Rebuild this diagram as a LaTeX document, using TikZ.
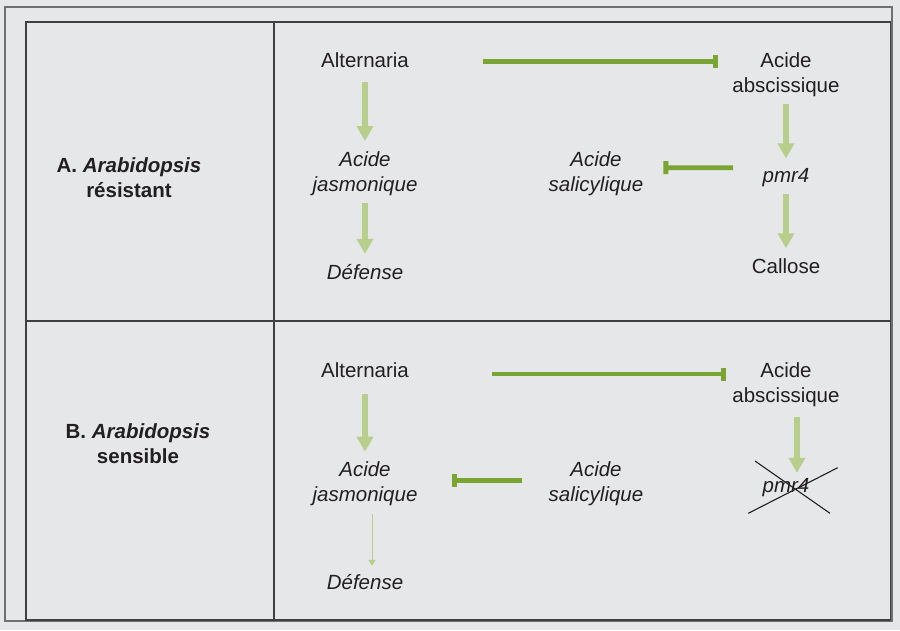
\documentclass[tikz,border=0pt]{standalone}
\usepackage{fontspec}
\setmainfont{Liberation Sans}
\usepackage{xcolor}
\usepackage{tikz}
\usetikzlibrary{arrows.meta}
\definecolor{fond}{RGB}{230,231,232}
\definecolor{cadre}{RGB}{64,64,65}
\definecolor{vertfonce}{RGB}{122,164,52}
\definecolor{vertclair}{RGB}{183,206,140}
\definecolor{texte}{RGB}{35,31,32}
\newcommand\txtfont{\fontsize{20.5}{25.5}\selectfont}

\begin{document}
\begin{tikzpicture}[x=1pt,y=-1pt,
 txt/.style={inner sep=0pt,align=center,text=texte,font=\txtfont},
 ital/.style={txt,font=\txtfont\itshape},
 lab/.style={txt,font=\txtfont\bfseries},
 act/.style={vertclair,line width=5.3pt,-{Triangle[width=16pt,length=15pt]},shorten <=6.5pt,shorten >=10pt},
 fin/.style={vertclair,line width=1pt,-{Triangle[width=7pt,length=6pt]}},
 inh/.style={vertfonce,line width=4.7pt,-{Bar[width=13pt,line width=5pt]}}]
\fill[fond](0,0)rectangle(900,630);
\draw[cadre!75,line width=1.3pt](5,7)rectangle(892,621);
\draw[cadre,line width=1.8pt](26,22)rectangle(890.5,620)(26,320.7)--(890.5,320.7)(273.7,22)--(273.7,620);
\node[lab](labA)at(129,177.7){A. \textit{Arabidopsis}\\résistant};
\node[txt](altA)at(365,60){Alternaria};
\node[txt](absA)at(786,74.5){Acide\\abscissique};
\node[ital](jasA)at(365,173.5){Acide\\jasmonique};
\node[ital](salA)at(596,173.5){Acide\\salicylique};
\node[ital](pmrA)at(786,177.8){pmr4};
\node[ital](defA)at(365,271.7){Défense};
\node[txt](calA)at(786,266){Callose};
\draw[act,shorten <=14.6pt](altA)--(jasA);
\draw[act](jasA)--(defA);
\draw[act](absA)--(pmrA);
\draw[act](pmrA)--(calA);
\draw[inh,shorten <=74.4pt,shorten >=14pt]([yshift=-1.7pt]altA.east)--([yshift=12.8pt]absA.west);
\draw[inh,shorten <=29.4pt,shorten >=20pt]([yshift=10pt]pmrA.west)--([yshift=5.8pt]salA.east);
\node[lab](labB)at(138,443.6){B. \textit{Arabidopsis}\\sensible};
\node[txt](altB)at(365,370){Alternaria};
\node[txt](absB)at(786,384.5){Acide\\abscissique};
\node[ital](jasB)at(365,483.5){Acide\\jasmonique};
\node[ital](salB)at(596,483.5){Acide\\salicylique};
\node[ital](pmrB)at(786,487.8){pmr4};
\node[ital](defB)at(365,581.7){Défense};
\draw[act,shorten <=16.6pt,shorten >=9.3pt](altB)--(jasB);
\draw[act,shorten <=10.2pt,shorten >=5.6pt]([xshift=11pt]absB.south)--([xshift=11pt]pmrB.north);
\draw[fin,shorten <=8.2pt,shorten >=8pt]([xshift=7pt]jasB.south)--([xshift=7pt]defB.north);
\draw[inh,shorten <=83pt,shorten >=6.4pt]([yshift=-4pt]altB.east)--([yshift=10.5pt]absB.west);
\draw[inh,shorten <=27pt,shorten >=34.6pt]([yshift=2.8pt]salB.west)--([yshift=2.8pt]jasB.east);
\draw[texte,line width=1.1pt](pmrB.center)++(-31,-26.8)--++(75,52.3)(pmrB.center)++(-37.7,25.5)--++(89.4,-45.6);
\end{tikzpicture}
\end{document}
